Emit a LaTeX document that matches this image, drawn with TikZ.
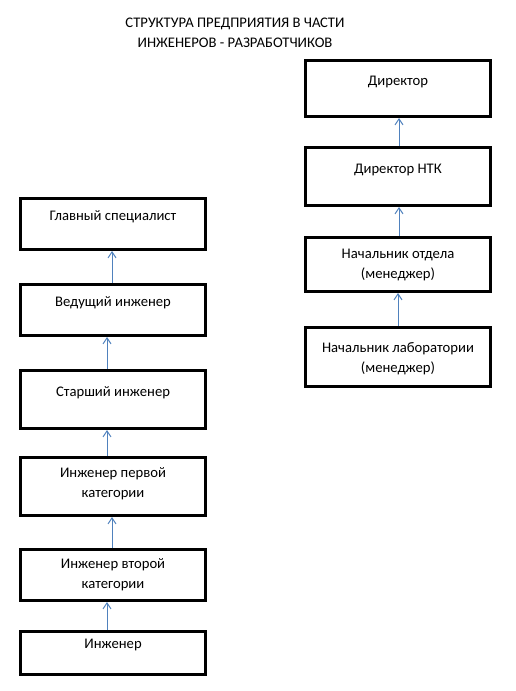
\documentclass[tikz,border=0pt]{standalone}
\usepackage{fontspec}
\setmainfont{Carlito}
\usetikzlibrary{arrows.meta}

\definecolor{linkblue}{HTML}{4F81BD}

\tikzset{
	post/.style = {draw, line width=2.25pt, minimum width=138.75pt, inner sep=0pt},
	posttext/.style = {anchor=north, inner sep=0pt, align=center, font={\fontsize{11pt}{15pt}\selectfont}},
	link/.style = {draw=linkblue, line width=0.75pt, -{Straight Barb[length=4.5pt, width=6pt]}}
}

\begin{document}
\begin{tikzpicture}[x = 0.75pt, y = -0.75pt]
	\useasboundingbox (0, 0) rectangle (515, 691);
	
	% Title
	\node[posttext] (title) at (235, 18) {СТРУКТУРА ПРЕДПРИЯТИЯ В ЧАСТИ\\ИНЖЕНЕРОВ - РАЗРАБОТЧИКОВ};
	
	% Nodes (right column)
	\node[post, minimum height=42pt] (dir) at (398, 88.5) {};
	\node[post, minimum height=43.5pt] (ntk) at (398, 176.5) {};
	\node[post, minimum height=40.5pt] (otd) at (398, 264.5) {};
	\node[post, minimum height=44.25pt] (lab) at (398, 357) {};
	
	\node[posttext] (dirT) at (398, 76) {Директор};
	\node[posttext] (ntkT) at (398, 164) {Директор НТК};
	\node[posttext] (otdT) at (398, 249) {Начальник отдела\\(менеджер)};
	\node[posttext] (labT) at (398, 342) {Начальник лаборатории\\(менеджер)};
	
	% Nodes (left column)
	\node[post, minimum height=38.25pt] (glav) at (113, 224) {};
	\node[post, minimum height=38.25pt] (ved) at (113, 310) {};
	\node[post, minimum height=43.5pt] (star) at (113, 399.5) {};
	\node[post, minimum height=43.5pt] (perv) at (113, 486.5) {};
	\node[post, minimum height=38.25pt] (vtor) at (113, 575) {};
	\node[post, minimum height=32.25pt] (inzh) at (113, 653) {};
	
	\node[posttext] (glavT) at (113, 210.5) {Главный специалист};
	\node[posttext] (vedT) at (113, 296) {Ведущий инженер};
	\node[posttext] (starT) at (113, 386) {Старший инженер};
	\node[posttext] (pervT) at (113, 467) {Инженер первой\\категории};
	\node[posttext] (vtorT) at (113, 558) {Инженер второй\\категории};
	\node[posttext] (inzhT) at (113, 639) {Инженер};
	
	% Edges
	\draw[link] ([xshift=0.75pt]ntk.north) to ([xshift=0.75pt]dir.south);
	\draw[link] ([xshift=0.75pt]otd.north) to ([xshift=0.75pt]ntk.south);
	\draw[link] (lab.north) to (otd.south);
	
	\draw[link] ([xshift=-0.75pt]ved.north) to ([xshift=-0.75pt]glav.south);
	\draw[link] ([xshift=-4.5pt]star.north) to ([xshift=-4.5pt]ved.south);
	\draw[link] ([xshift=-4.5pt]perv.north) to ([xshift=-4.5pt]star.south);
	\draw[link] ([xshift=-0.75pt]vtor.north) to ([xshift=-0.75pt]perv.south);
	\draw[link] ([xshift=-4.5pt]inzh.north) to ([xshift=-4.5pt]vtor.south);
\end{tikzpicture}
\end{document}
